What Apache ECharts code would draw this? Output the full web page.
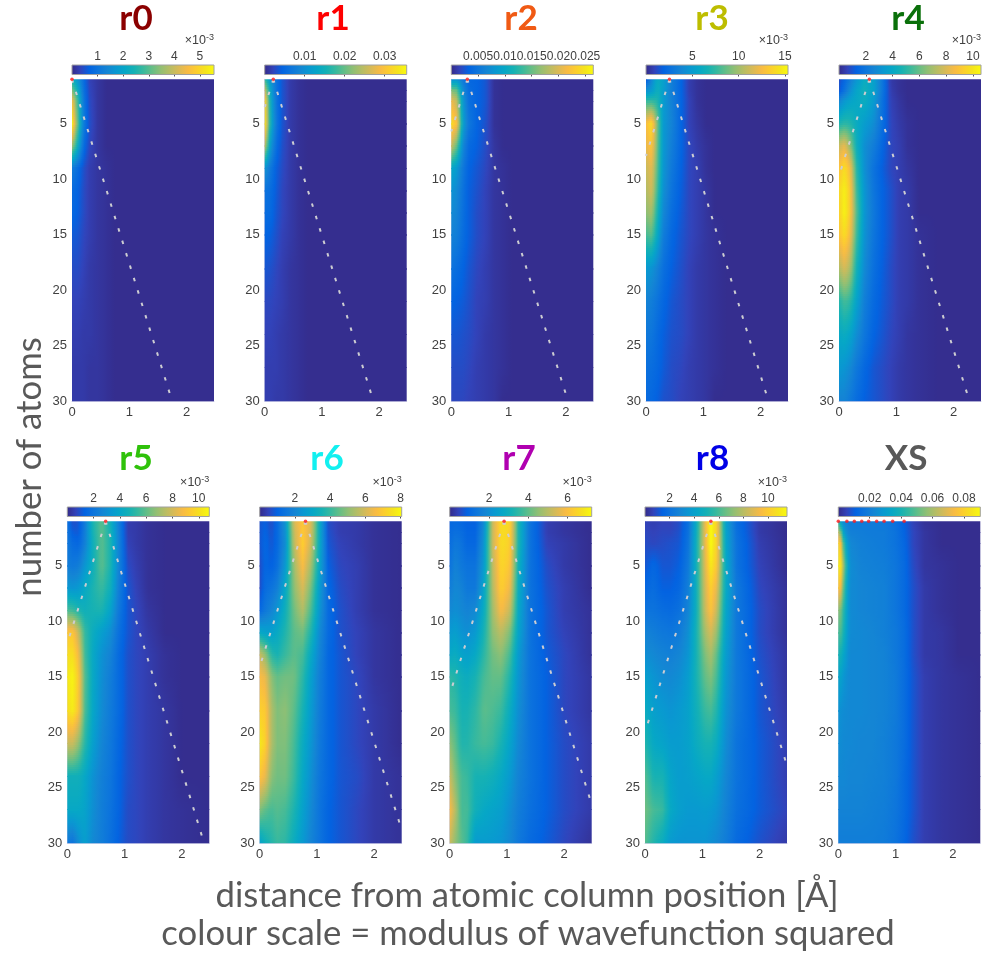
<!DOCTYPE html>
<html><head><meta charset="utf-8">
<style>html,body{margin:0;padding:0;background:#fff}#c{width:984px;height:958px}</style>
<script src="https://cdn.jsdelivr.net/npm/echarts@6/dist/echarts.min.js"></script>
</head><body><div id="c"></div>
<script>
// Atom-count rows and distance columns at which the colours were read
const yNodes = [1,2,3,5,7,9,11,13,15,18,21,24,27,30];
const xDefault = [0,.1,.2,.3,.45,.6,.75,.9,1.05,1.2,1.4,1.7,2,2.48];
const xR8 = [0,.15,.3,.45,.6,.75,.9,1.05,1.15,1.25,1.4,1.6,2,2.48];
const xXS = [0,.05,.1,.2,.4,.6,.8,1,1.15,1.3,1.5,1.8,2.1,2.48];

// Levels, in percent of each panel's colour-bar top
const r0 = [
[42,30,16,6,3,1,1,1,1,1,1,1,1,1],[60,40,18,7,3,1,1,1,1,1,1,1,1,1],[82,50,20,8,3,1,1,1,1,1,1,1,1,1],
[98,55,22,9,3,1,1,1,1,1,1,1,1,1],[65,40,16,7,3,1,1,1,1,1,1,1,1,1],[22,16,9,5,3,2,1,1,1,1,1,1,1,1],
[15,13,8,5,3,2,1,1,1,1,1,1,1,1],[14,12,8,5,3,2,1,1,1,1,1,1,1,1],[11,10,7,5,3,2,1,1,1,1,1,1,1,1],
[8,8,6,4,3,2,1,1,1,1,1,1,1,1],[6,6,5,4,3,2,1,1,1,1,1,1,1,1],[5,5,4,4,3,2,1,1,1,1,1,1,1,1],
[4,4,4,3,3,2,1,1,1,1,1,1,1,1],[4,4,4,3,3,2,1,1,1,1,1,1,1,1]];
const r1 = [
[50,30,18,10,4,2,1,1,1,1,1,1,1,1],[72,36,18,10,4,2,1,1,1,1,1,1,1,1],[88,40,19,10,4,2,1,1,1,1,1,1,1,1],
[92,42,20,10,4,2,1,1,1,1,1,1,1,1],[70,32,16,9,4,2,1,1,1,1,1,1,1,1],[30,20,12,8,4,2,1,1,1,1,1,1,1,1],
[18,16,11,7,4,2,1,1,1,1,1,1,1,1],[16,15,10,7,4,2,1,1,1,1,1,1,1,1],[13,12,9,6,4,2,1,1,1,1,1,1,1,1],
[10,9,7,5,3,2,1,1,1,1,1,1,1,1],[7,7,6,5,3,2,1,1,1,1,1,1,1,1],[6,6,5,4,3,2,1,1,1,1,1,1,1,1],
[5,5,5,4,3,2,1,1,1,1,1,1,1,1],[5,5,4,4,3,2,1,1,1,1,1,1,1,1]];
const r2 = [
[28,30,20,14,13,10,2,1,1,1,1,1,1,1],[60,55,27,16,13,10,2,1,1,1,1,1,1,1],[80,70,32,17,13,10,2,1,1,1,1,1,1,1],
[92,82,35,20,13,9,2,1,1,1,1,1,1,1],[72,55,26,15,12,8,3,1,1,1,1,1,1,1],[38,32,20,13,10,7,3,2,1,1,1,1,1,1],
[30,26,18,12,9,6,3,2,1,1,1,1,1,1],[27,24,17,12,8,6,3,2,1,1,1,1,1,1],[24,22,16,12,8,6,3,2,1,1,1,1,1,1],
[18,16,13,10,7,5,3,2,1,1,1,1,1,1],[13,12,11,9,6,5,3,2,1,1,1,1,1,1],[10,10,9,8,6,4,3,2,1,1,1,1,1,1],
[8,8,8,7,5,4,3,2,1,1,1,1,1,1],[7,7,7,6,5,4,3,1,1,1,1,1,1,1]];
const r3 = [
[10,25,40,35,22,14,5,2,1,1,1,1,1,1],[28,32,42,34,22,14,5,2,1,1,1,1,1,1],[50,50,46,33,23,14,6,2,1,1,1,1,1,1],
[82,92,58,32,24,14,6,3,1,1,1,1,1,1],[78,85,56,32,22,14,7,4,2,1,1,1,1,1],[72,78,54,31,20,13,7,5,2,1,1,1,1,1],
[68,74,50,29,18,12,7,5,3,1,1,1,1,1],[62,66,44,26,16,11,7,5,3,1,1,1,1,1],[52,55,38,22,14,10,7,5,3,2,1,1,1,1],
[32,30,24,17,12,9,6,4,3,2,1,1,1,1],[24,22,18,14,10,8,6,4,3,2,1,1,1,1],[20,19,15,12,9,8,6,4,3,2,1,1,1,1],
[17,16,14,11,8,7,5,4,3,2,1,1,1,1],[15,14,12,9,8,6,5,4,3,1,1,1,1,1]];
const r4 = [
[8,14,22,30,40,35,20,4,2,1,1,1,1,1],[10,18,28,36,42,36,20,5,2,1,1,1,1,1],[25,32,36,38,40,33,18,6,3,1,1,1,1,1],
[45,48,46,40,33,28,17,7,4,2,1,1,1,1],[72,78,62,42,28,22,14,7,5,2,1,1,1,1],[84,92,80,48,28,18,12,7,5,3,1,1,1,1],
[90,97,85,52,30,19,13,9,5,4,1,1,1,1],[88,98,85,55,30,20,13,9,5,4,1,1,1,1],[84,92,80,52,29,19,13,9,5,4,2,1,1,1],
[68,75,66,44,26,17,12,8,5,4,2,1,1,1],[46,52,48,36,22,15,11,8,5,4,2,1,1,1],[38,40,36,28,19,13,10,7,5,3,2,1,1,1],
[32,30,26,20,14,10,8,6,4,3,2,1,1,1],[24,24,20,16,12,10,8,6,4,3,2,1,1,1]];
const r5 = [
[18,8,10,20,45,55,42,22,5,4,2,1,1,1],[19,11,11,21,44,55,44,23,5,4,2,1,1,1],[20,15,14,22,42,55,45,24,6,4,2,1,1,1],
[22,20,22,30,42,55,45,24,8,5,2,1,1,1],[32,30,32,38,45,50,42,22,10,6,2,1,1,1],[52,50,45,42,44,45,36,20,10,7,3,1,1,1],
[85,85,70,50,40,34,28,17,10,7,4,1,1,1],[92,92,80,52,38,29,24,15,9,7,5,2,1,1],[95,98,85,55,38,28,22,15,9,7,5,2,1,1],
[92,96,84,54,37,27,21,15,9,7,5,3,1,1],[72,72,62,48,34,25,20,14,9,7,5,3,1,1],[42,42,42,38,29,23,19,13,9,7,5,3,1,1],
[38,38,38,36,28,22,18,13,8,7,5,3,2,1],[20,18,28,34,26,22,17,12,8,7,5,3,2,1]];
const r6 = [
[10,12,8,14,30,75,85,75,38,8,5,4,2,1],[10,13,9,14,29,72,86,74,38,9,5,4,2,1],[10,14,10,14,28,70,88,72,38,10,6,4,2,1],
[8,14,12,16,32,65,82,65,36,12,7,5,2,1],[8,16,18,22,38,62,75,58,32,14,8,5,2,1],[14,20,24,30,42,58,68,52,30,15,9,5,2,1],
[38,35,34,38,46,55,58,45,26,15,9,6,3,1],[72,62,48,44,50,55,52,38,24,14,10,6,3,1],[82,78,62,56,58,58,48,34,22,14,10,7,3,1],
[88,86,68,60,62,55,44,32,21,14,10,7,4,1],[95,88,68,60,60,52,40,30,20,14,10,7,4,1],[85,78,62,58,58,50,38,28,19,14,10,8,4,2],
[60,55,52,54,52,45,35,26,18,13,10,7,4,2],[35,42,46,50,48,40,32,24,18,13,10,7,4,2]];
const r7 = [
[14,15,14,12,12,26,72,92,90,45,18,5,3,1],[15,17,16,13,13,28,72,92,89,45,18,5,3,1],[16,20,18,14,14,30,72,92,88,45,18,6,4,1],
[18,24,20,18,18,32,70,90,85,42,18,8,4,1],[22,26,24,20,20,36,68,88,80,40,18,9,5,1],[26,28,26,24,26,40,65,82,72,38,18,10,5,2],
[32,34,30,28,32,44,62,70,60,36,18,10,6,2],[38,40,36,34,38,48,58,62,52,32,18,11,7,2],[48,46,42,40,44,52,56,56,46,30,18,12,7,3],
[52,50,44,44,48,55,53,50,40,28,18,12,7,3],[62,55,46,46,50,52,50,44,36,26,18,12,8,4],[72,60,52,50,44,44,42,38,32,24,18,12,8,4],
[82,68,52,52,42,38,36,34,28,22,17,12,8,4],[72,62,55,50,32,33,32,30,26,20,15,11,7,2]];
const r8 = [
[6,5,6,6,8,16,40,78,100,88,36,16,4,1],[7,6,7,7,9,17,41,78,100,88,37,17,4,1],[8,7,8,9,10,18,42,78,100,88,38,18,5,1],
[10,14,10,10,12,20,42,76,95,85,40,18,6,1],[14,16,12,12,14,22,42,74,88,78,40,20,7,2],[18,18,16,15,17,24,42,72,84,72,38,20,8,2],
[24,22,20,19,21,28,44,66,74,64,36,20,8,2],[28,26,24,23,25,30,44,60,66,56,34,20,9,3],[34,30,27,26,28,33,44,56,60,52,32,20,10,3],
[40,34,32,30,32,35,42,50,52,46,30,20,10,4],[46,38,36,33,33,35,40,44,44,40,28,18,11,5],[54,44,44,36,33,34,36,38,38,34,26,18,11,5],
[58,52,50,38,34,32,32,33,32,30,24,17,11,6],[54,46,40,32,30,30,30,30,28,26,22,15,9,4]];
const xs = [
[45,32,25,21,21,21,20,17,12,6,2,1,1,1],[70,55,32,23,22,21,21,18,13,7,3,1,1,1],[90,80,45,26,23,22,21,18,14,7,3,1,1,1],
[96,92,58,28,24,23,22,19,15,8,3,2,1,1],[85,78,50,27,25,24,23,19,15,9,4,2,1,1],[62,58,45,27,25,24,23,19,15,9,4,2,1,1],
[52,52,42,27,26,25,23,20,16,9,4,3,1,1],[44,42,36,26,26,25,24,20,16,9,4,3,1,1],[36,35,30,26,26,25,24,21,16,10,5,3,2,1],
[30,28,27,26,26,25,24,21,16,10,5,3,2,1],[28,27,26,26,25,25,23,20,16,10,5,3,2,1],[26,26,26,25,25,24,23,20,15,10,5,3,2,1],
[24,24,24,24,24,23,22,19,15,10,5,3,2,1],[22,22,22,22,22,22,21,18,14,9,5,3,2,1]];

// Colour-bar tops and tick labels
const scaleMax = [5.55e-3,0.0355,0.0265,15.33e-3,10.6e-3,10.8e-3,8.07e-3,7.22e-3,11.55e-3,0.0904];
const cbTicks = [
 [1e-3,2e-3,3e-3,4e-3,5e-3],[.01,.02,.03],[.005,.01,.015,.02,.025],[5e-3,10e-3,15e-3],[2e-3,4e-3,6e-3,8e-3,10e-3],
 [2e-3,4e-3,6e-3,8e-3,10e-3],[2e-3,4e-3,6e-3,8e-3],[2e-3,4e-3,6e-3],[2e-3,4e-3,6e-3,8e-3,10e-3],[.02,.04,.06,.08]];
const cbLabels = [
 ['1','2','3','4','5'],['0.01','0.02','0.03'],['0.005','0.01','0.015','0.02','0.025'],['5','10','15'],['2','4','6','8','10'],
 ['2','4','6','8','10'],['2','4','6','8'],['2','4','6'],['2','4','6','8','10'],['0.02','0.04','0.06','0.08']];
const hasMultiplier = [1,0,0,1,1,1,1,1,1,0];

// Panel names, colours, axis ticks
const names = ['r0','r1','r2','r3','r4','r5','r6','r7','r8','XS'];
const nameColors = ['#8b0000','#fe0000','#f05a14','#bdbd00','#0a700a','#2fc20a','#12f0f0','#b000b0','#0000e6','#595959'];
const levelSets = [r0,r1,r2,r3,r4,r5,r6,r7,r8,xs];
const xNodeSets = [xDefault,xDefault,xDefault,xDefault,xDefault,xDefault,xDefault,xDefault,xR8,xXS];
const yTicks = [5,10,15,20,25,30];
const xTicks = [0,1,2];

// Atomic column positions (red marks) and where the dashed guides reach x=0 and leave the plot
const columnX = [0,.15,.28,.41,.53,.67,.8,.95,1.15];
const guideLeftY = [null,3.5,5.7,7.9,9.7,12,14.1,16.6,20];
const guideRightEnd = [[1.75,30],[1.9,30],[2.04,30],[2.14,30],[2.28,30],[2.39,30],[2.48,28.8],[2.48,26.5],[2.48,23]];

// Colour map of the reference (colour-bar stops)
const parula = [[53,42,135],[50,67,186],[3,99,225],[13,117,220],[20,133,212],[9,152,209],[6,167,198],[21,177,180],
[56,185,158],[101,190,134],[146,191,115],[183,189,100],[217,186,86],[248,187,68],[252,206,46],[245,228,29],[249,251,14]];
const lefts = [72,264.7,451.3,646,839,67.3,259.7,449.7,645,838.3];
const titleCx = [136,333,521,712,908,136,327,519,712.5,906];
const PW = 142, PH = 322;

function colorAt(f){
  f = Math.max(0,Math.min(1,f))*(parula.length-1);
  const i = Math.min(parula.length-2,Math.floor(f)), t = f-i, a = parula[i], b = parula[i+1];
  return 'rgb('+[0,1,2].map(k=>Math.round(a[k]+(b[k]-a[k])*t)).join(',')+')';
}
function lerpIn(nodes,vals,x){
  let j = 0; while(j<nodes.length-2 && x>nodes[j+1]) j++;
  return vals[j]+(vals[j+1]-vals[j])*(x-nodes[j])/(nodes[j+1]-nodes[j]);
}

const grid=[],xAxis=[],yAxis=[],series=[],title=[];
const font='"Liberation Sans",Arial,sans-serif';
names.forEach((name,p)=>{
  const top = p<5 ? 79.3 : 521.3, barTop = p<5 ? 65 : 507, L = lefts[p];
  const levels = levelSets[p], xn = xNodeSets[p], max = scaleMax[p];
  const gi = grid.length;
  grid.push({left:L,top:top,width:PW,height:PH});
  xAxis.push({type:'value',gridIndex:gi,min:0,max:2.48,position:'bottom',splitLine:{show:false},
    axisLine:{show:true,onZero:false,lineStyle:{color:'#d4d4ea',width:1}},
    axisTick:{show:false},
    axisLabel:{customValues:xTicks,color:'#404040',fontSize:13,fontFamily:font,margin:5}});
  yAxis.push({type:'value',gridIndex:gi,min:1,max:30,inverse:true,splitLine:{show:false},
    axisLine:{show:true,onZero:false,lineStyle:{color:'#d4d4ea',width:1}},
    axisTick:{show:false},
    axisLabel:{customValues:yTicks,color:'#404040',fontSize:13,fontFamily:font,margin:5}});
  // Field: one data item per interval between read rows, shaded on whole pixel rows
  series.push({type:'custom',xAxisIndex:gi,yAxisIndex:gi,z:1,silent:true,clip:true,
    data:levels.slice(0,-1).map((_,i)=>[i]),
    encode:{x:[],y:[]},
    renderItem:(params,api)=>{
      const i = api.value(0), r0v = levels[i], r1v = levels[i+1];
      const yA = api.coord([0,yNodes[i]])[1], yB = api.coord([0,yNodes[i+1]])[1];
      const xA = api.coord([0,1])[0], xB = api.coord([2.48,1])[0];
      const children = [], step = 2;
      for(let py=Math.floor(yA);py<yB;py+=step){
        const t = Math.max(0,Math.min(1,(py+step/2-yA)/(yB-yA))), stops=[], N=56;
        for(let s=0;s<=N;s++){
          const xv = 2.48*s/N;
          const v = (1-t)*lerpIn(xn,r0v,xv)+t*lerpIn(xn,r1v,xv);
          stops.push({offset:s/N,color:colorAt(v/100)});
        }
        children.push({type:'rect',shape:{x:xA,y:py,width:xB-xA,height:step},
          style:{fill:new echarts.graphic.LinearGradient(0,0,1,0,stops)}});
      }
      return {type:'group',children};
    }});
  // Guides and column marks
  if(p<9){
    const cx = columnX[p], dash = {color:'#cdcdd2',width:2,type:[3.5,9.5]};
    series.push({type:'line',xAxisIndex:gi,yAxisIndex:gi,z:3,symbol:'none',silent:true,lineStyle:dash,data:[[cx,1],guideRightEnd[p]]});
    if(guideLeftY[p]!==null) series.push({type:'line',xAxisIndex:gi,yAxisIndex:gi,z:3,symbol:'none',silent:true,lineStyle:dash,data:[[cx,1],[0,guideLeftY[p]]]});
    series.push({type:'scatter',xAxisIndex:gi,yAxisIndex:gi,z:4,symbolSize:3.5,silent:true,clip:false,itemStyle:{color:'#ff1a1a'},data:[[cx,1]]});
  } else {
    series.push({type:'scatter',xAxisIndex:gi,yAxisIndex:gi,z:4,symbolSize:3.5,silent:true,clip:false,itemStyle:{color:'#ff1a1a'},data:columnX.map(c=>[c,1])});
  }
  // Colour bar
  const bi = grid.length;
  grid.push({left:L,top:barTop,width:PW,height:9.5});
  xAxis.push({type:'value',gridIndex:bi,position:'top',min:0,max:max,splitLine:{show:false},
    axisLine:{show:false},
    axisTick:{show:true,inside:true,length:2,customValues:cbTicks[p],lineStyle:{color:'#555',width:1}},
    axisLabel:{customValues:cbTicks[p],formatter:v=>cbLabels[p][cbTicks[p].findIndex(t=>Math.abs(t-v)<1e-9)],
      color:'#404040',fontSize:12,fontFamily:font,margin:2,hideOverlap:false}});
  yAxis.push({type:'value',gridIndex:bi,min:0,max:1,show:false});
  series.push({type:'custom',xAxisIndex:bi,yAxisIndex:bi,z:1,silent:true,data:[[0,max]],encode:{x:[0,1],y:[]},
    renderItem:(params,api)=>{
      const a=api.coord([api.value(0),1]), b=api.coord([api.value(1),0]);
      return {type:'rect',shape:{x:a[0],y:a[1],width:b[0]-a[0],height:b[1]-a[1]},
        style:{fill:new echarts.graphic.LinearGradient(0,0,1,0,parula.map((_,k)=>({offset:k/(parula.length-1),color:colorAt(k/(parula.length-1))}))),
        stroke:'#a0a0a0',lineWidth:1}};
    }});
  title.push({text:name,left:titleCx[p],top:p<5?19:459,padding:0,textAlign:'center',textVerticalAlign:'middle',
    textStyle:{color:nameColors[p],fontSize:35,fontWeight:'bold',fontFamily:'Lato'}});
  if(hasMultiplier[p]) title.push({text:'×10{s|-3}',left:L+PW,top:barTop-24,padding:0,textAlign:'right',textVerticalAlign:'middle',
    textStyle:{color:'#404040',fontSize:12.5,fontWeight:'normal',fontFamily:font,rich:{s:{fontSize:9,verticalAlign:'top',color:'#404040',fontFamily:font,padding:[0,0,6,0]}}}});
});

const big={fill:'#595959',fontSize:34.7,fontFamily:'Lato',textAlign:'center',textVerticalAlign:'middle'};
const graphic=[
 {type:'text',x:30,y:467,rotation:Math.PI/2,style:Object.assign({text:'number of atoms'},big)},
 {type:'text',x:527,y:896,style:Object.assign({text:'distance from atomic column position [Å]'},big)},
 {type:'text',x:528,y:934,style:Object.assign({text:'colour scale = modulus of wavefunction squared'},big)}
];

const chart = echarts.init(document.getElementById('c'),null,{renderer:'canvas'});
chart.setOption({animation:false,backgroundColor:'#fff',tooltip:{show:false},title,grid,xAxis,yAxis,series,graphic});
</script></body></html>
